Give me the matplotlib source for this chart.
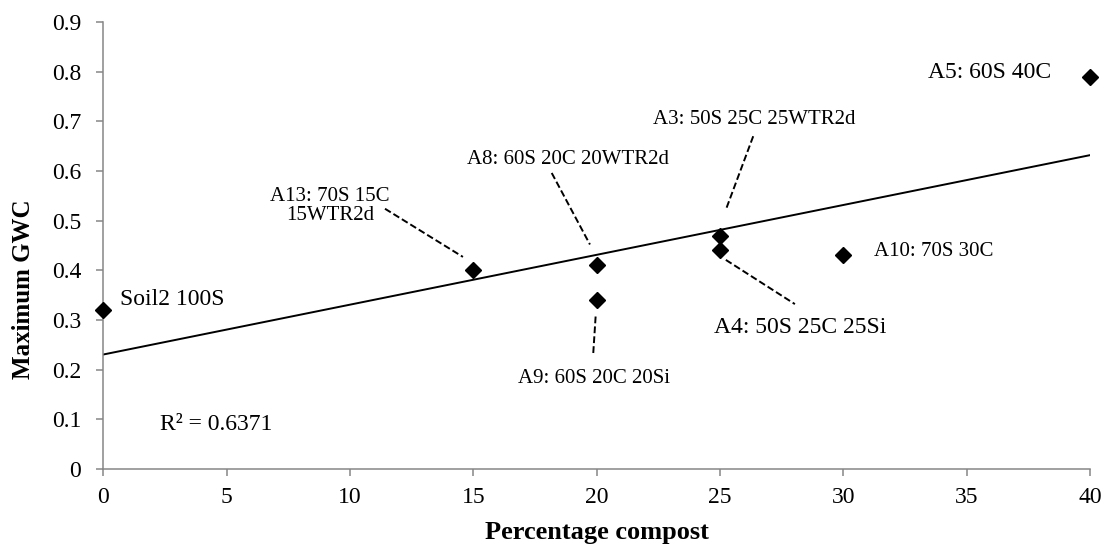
import numpy as np
import matplotlib.pyplot as plt

plt.rcParams['font.family'] = ['Liberation Serif', 'DejaVu Serif']

# data
compost = [0, 15, 20, 20, 25, 25, 30, 40]
max_gwc = [0.32, 0.40, 0.41, 0.34, 0.47, 0.44, 0.43, 0.79]
mix_names = ['Soil2 100S', 'A13: 70S 15C\n15WTR2d', 'A8: 60S 20C 20WTR2d',
             'A9: 60S 20C 20Si', 'A3: 50S 25C 25WTR2d', 'A4: 50S 25C 25Si',
             'A10: 70S 30C', 'A5: 60S 40C']
x_ticks = [0, 5, 10, 15, 20, 25, 30, 35, 40]
y_ticks = [0, 0.1, 0.2, 0.3, 0.4, 0.5, 0.6, 0.7, 0.8, 0.9]
y_tick_labels = ['0', '0.1', '0.2', '0.3', '0.4', '0.5', '0.6', '0.7', '0.8', '0.9']

# where each label sits (data units), how it is aligned, its size, and its dashed leader
label_pos = [(0.68, 0.341), (9.19, 0.530), (18.82, 0.623), (19.89, 0.183),
             (26.41, 0.704), (28.24, 0.284), (31.24, 0.438), (38.41, 0.798)]
label_ha = ['left', 'center', 'center', 'center', 'center', 'center', 'left', 'right']
label_size = [17, 15, 15, 15, 15, 17, 15, 17]
leaders = [None,
           ((11.42, 0.524), (14.58, 0.427)),
           ((18.18, 0.596), (19.73, 0.452)),
           ((19.96, 0.307), (19.86, 0.230)),
           ((26.35, 0.670), (25.27, 0.526)),
           ((25.24, 0.421), (28.04, 0.332)),
           None,
           None]

axis_grey = '#868686'

fig = plt.figure(figsize=(11.11, 5.47), dpi=100)
ax = fig.add_axes([0.093, 0.1426, 0.888, 0.8172])

# linear trendline, as Excel does it
slope, intercept = np.polyfit(compost, max_gwc, 1)
fit_x = np.array([0, 40])
ax.plot(fit_x, slope * fit_x + intercept, color='black', lw=1.4, zorder=2)
pred = slope * np.array(compost) + intercept
resid = np.array(max_gwc) - pred
r2 = 1 - np.sum(resid ** 2) / np.sum((np.array(max_gwc) - np.mean(max_gwc)) ** 2)

ax.plot(compost, max_gwc, linestyle='none', marker='D', ms=8.5, color='black',
        clip_on=False, zorder=4)

for i in range(len(mix_names)):
    ax.text(label_pos[i][0], label_pos[i][1], mix_names[i], ha=label_ha[i],
            va='center', multialignment='center', fontsize=label_size[i],
            linespacing=1.0)
    if leaders[i] is not None:
        (x0, y0), (x1, y1) = leaders[i]
        ax.plot([x0, x1], [y0, y1], color='black', lw=1.4,
                linestyle=(0, (3.5, 1.6)), zorder=3)

ax.text(2.30, 0.089, 'R² = %.4f' % r2, ha='left', va='center', fontsize=17)

ax.set_xlim(0, 40)
ax.set_ylim(0, 0.9)
ax.set_xticks(x_ticks)
ax.set_xticklabels([str(t) for t in x_ticks])
ax.set_yticks(y_ticks)
ax.set_yticklabels(y_tick_labels)

for side in ['top', 'right']:
    ax.spines[side].set_visible(False)
for side in ['left', 'bottom']:
    ax.spines[side].set_color(axis_grey)
    ax.spines[side].set_linewidth(1.1)
ax.tick_params(axis='both', direction='out', length=5, width=1.1,
               color=axis_grey, labelsize=17)
ax.tick_params(axis='y', pad=11)
ax.tick_params(axis='x', pad=8)

fig.text(596.5 / 1111, 1 - 533 / 547, 'Percentage compost', ha='center',
         va='center', fontsize=19, fontweight='bold')
fig.text(24 / 1111, 1 - 289 / 547, 'Maximum GWC', ha='center', va='center',
         rotation=90, fontsize=18, fontweight='bold')

fig.savefig('out.png', dpi=100)
